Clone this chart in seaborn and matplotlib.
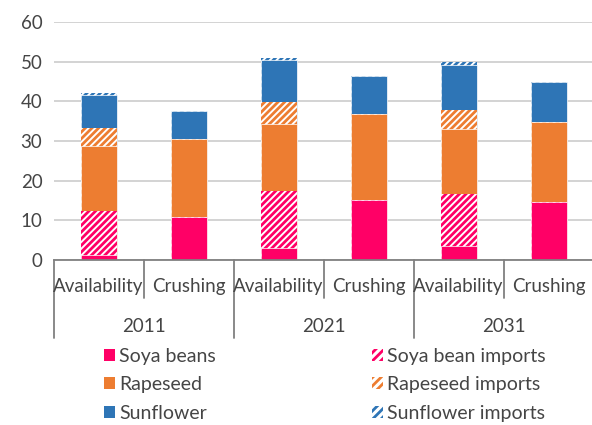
import matplotlib
matplotlib.use("Agg")
import matplotlib.pyplot as plt
import seaborn as sns
import pandas as pd
import numpy as np
from matplotlib.patches import Patch
from matplotlib.transforms import blended_transform_factory

categories = ["Availability", "Crushing", "Availability", "Crushing", "Availability", "Crushing"]
years = ["2011", "2021", "2031"]
soya = [1.2, 10.9, 2.9, 15.1, 3.6, 14.7]
soya_imports = [11.1, 0, 14.5, 0, 13.0, 0]
rapeseed = [16.5, 19.7, 17.0, 21.7, 16.3, 20.0]
rapeseed_imports = [4.4, 0, 5.5, 0, 4.9, 0]
sunflower = [8.5, 6.9, 10.5, 9.5, 11.3, 10.1]
sunflower_imports = [0.3, 0, 0.4, 0, 0.8, 0]

pink = "#FF0066"
orange = "#ED7D31"
blue = "#2E75B6"
text_col = "#454545"
line_col = "#808080"

sns.set_theme(style="white")
plt.rcParams["font.family"] = ["Lato", "DejaVu Sans"]
plt.rcParams["hatch.linewidth"] = 2.0

slots = [f"s{i}" for i in range(len(categories))]
layers = [
    ("Soya beans", soya, pink, None),
    ("Soya bean imports", soya_imports, pink, "/////"),
    ("Rapeseed", rapeseed, orange, None),
    ("Rapeseed imports", rapeseed_imports, orange, "/////"),
    ("Sunflower", sunflower, blue, None),
    ("Sunflower imports", sunflower_imports, blue, "/////"),
]
cum = np.cumsum(np.array([l[1] for l in layers]), axis=0)

fig = plt.figure(figsize=(5.92, 4.25), dpi=100)
ax = fig.add_axes([53.5 / 592, 165 / 425, (592 - 53.5) / 592, 238 / 425])

# draw cumulative totals from the top down so lower layers cover upper ones
for i in range(len(layers) - 1, -1, -1):
    name, vals, col, hatch = layers[i]
    df = pd.DataFrame({"slot": slots, "value": cum[i]})
    if hatch:
        sns.barplot(data=df, x="slot", y="value", order=slots, color="white",
                    edgecolor=col, hatch=hatch, linewidth=0, width=0.4,
                    saturation=1, errorbar=None, ax=ax)
    else:
        sns.barplot(data=df, x="slot", y="value", order=slots, color=col,
                    linewidth=0.5, edgecolor="#ffffff", width=0.4,
                    saturation=1, errorbar=None, ax=ax)

ax.set_ylim(0, 60)
ax.set_xlim(-0.5, 5.5 - 1.5 / 90)
ax.set_yticks(range(0, 61, 10))
ax.yaxis.grid(True, color="#D0D0D0", linewidth=1.3)
ax.set_axisbelow(True)
for s in ["left", "right", "top"]:
    ax.spines[s].set_visible(False)
ax.spines["bottom"].set_color(line_col)
ax.spines["bottom"].set_linewidth(1.3)
ax.tick_params(axis="y", length=0, labelsize=13.5, labelcolor=text_col, pad=8)
ax.set_xticks(range(len(categories)))
ax.set_xticklabels([])
ax.tick_params(axis="x", length=0)
ax.set_xlabel("")
ax.set_ylabel("")

trans = blended_transform_factory(ax.transData, ax.transAxes)
for k, cat in enumerate(categories):
    ax.text(k, -0.1345, cat, transform=trans, ha="center", va="baseline",
            fontsize=13.5, color=text_col)
for k in range(len(categories) + 1):
    x = k - 0.5
    y0 = -0.16 if k % 2 == 1 else -0.328
    ax.plot([x, x], [0, y0], transform=trans, color=line_col, lw=1.3, clip_on=False)
for j, yr in enumerate(years):
    ax.text(2 * j + 0.5, -0.3025, yr, transform=trans, ha="center", va="baseline",
            fontsize=13.5, color=text_col)

handles = [Patch(facecolor=l[2], edgecolor="none") if l[3] is None else
           Patch(facecolor="white", edgecolor=l[2], hatch="////", linewidth=0)
           for l in layers]
labels = [l[0] for l in layers]
order = [0, 2, 4, 1, 3, 5]
fig.legend([handles[i] for i in order], [labels[i] for i in order], ncol=2,
           loc="upper left", bbox_to_anchor=(104 / 592, 1 - 348 / 425), frameon=False,
           fontsize=14, handlelength=0.57, handleheight=0.57, handletextpad=0.22,
           columnspacing=8.0, labelspacing=0.58, labelcolor=text_col,
           borderaxespad=0, borderpad=0)

fig.savefig("out.png", dpi=100)
